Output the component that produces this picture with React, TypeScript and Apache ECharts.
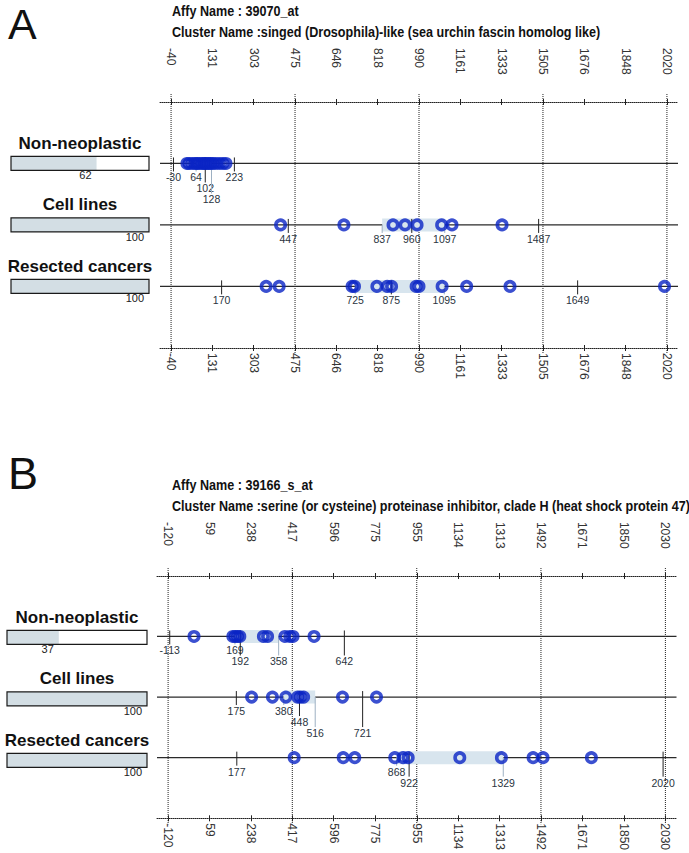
import React, { useEffect, useRef } from "react";
import * as echarts from "echarts";

// ---------------- data ----------------
const ROW_NAMES = ["Non-neoplastic", "Cell lines", "Resected cancers"];

const A_LETTER = "A";
const A_AFFY = "Affy Name : 39070_at";
const A_CLUSTER = "Cluster Name :singed (Drosophila)-like (sea urchin fascin homolog like)";
const A_TICKS = [-40, 131, 303, 475, 646, 818, 990, 1161, 1333, 1505, 1676, 1848, 2020];
const A_PERCENT = [62, 100, 100];
const A_NON_NEOPLASTIC = [26, 35, 48, 60, 68, 78, 90, 98, 106, 115, 124, 133, 145, 160, 175, 188];
const A_CELL_LINES = [415, 678, 882, 932, 982, 1084, 1127, 1335];
const A_RESECTED = [355, 409, 712, 722, 815, 858, 876, 978, 990, 1086, 1188, 1368, 2010];
const A_STATS_NON_NEOPLASTIC = [-30, 64, 102, 128, 223];
const A_STATS_CELL_LINES = [447, 837, 960, 1097, 1487];
const A_STATS_RESECTED = [170, 725, 875, 1095, 1649];

const B_LETTER = "B";
const B_AFFY = "Affy Name : 39166_s_at";
const B_CLUSTER = "Cluster Name :serine (or cysteine) proteinase inhibitor, clade H (heat shock protein 47)";
const B_TICKS = [-120, 59, 238, 417, 596, 775, 955, 1134, 1313, 1492, 1671, 1850, 2030];
const B_PERCENT = [37, 100, 100];
const B_NON_NEOPLASTIC = [-8, 160, 170, 180, 190, 292, 310, 385, 406, 420, 511];
const B_CELL_LINES = [241, 331, 389, 440, 452, 466, 634, 781];
const B_RESECTED = [425, 637, 687, 860, 896, 918, 1141, 1321, 1458, 1501, 1710];
const B_STATS_NON_NEOPLASTIC = [-113, 169, 192, 358, 642];
const B_STATS_CELL_LINES = [175, 380, 448, 516, 721];
const B_STATS_RESECTED = [177, 868, 922, 1329, 2020];

// ---------------- layout (not data) ----------------
const A_LABEL_TIERS = [[0, 0, 1, 2, 0], [0, 0, 0, 0, 0], [0, 0, 0, 0, 0]];
const B_LABEL_TIERS = [[0, 0, 1, 1, 1], [0, 0, 1, 2, 2], [0, 0, 1, 1, 1]];

const PANELS = [
  {
    letter: A_LETTER, affy: A_AFFY, cluster: A_CLUSTER, ticks: A_TICKS, percent: A_PERCENT,
    points: [A_NON_NEOPLASTIC, A_CELL_LINES, A_RESECTED],
    stats: [A_STATS_NON_NEOPLASTIC, A_STATS_CELL_LINES, A_STATS_RESECTED],
    tiers: A_LABEL_TIERS,
    L: { top: 94, gridLeft: 160, gridWidth: 518, xMin: -86, xMax: 2066, boxLeft: 11, boxWidth: 138,
         letterY: 24, letterSize: 43, affyY: 11, clusterY: 32 },
  },
  {
    letter: B_LETTER, affy: B_AFFY, cluster: B_CLUSTER, ticks: B_TICKS, percent: B_PERCENT,
    points: [B_NON_NEOPLASTIC, B_CELL_LINES, B_RESECTED],
    stats: [B_STATS_NON_NEOPLASTIC, B_STATS_CELL_LINES, B_STATS_RESECTED],
    tiers: B_LABEL_TIERS,
    L: { top: 568, gridLeft: 157, gridWidth: 519.5, xMin: -168, xMax: 2078, boxLeft: 7, boxWidth: 140,
         letterY: 473, letterSize: 45, affyY: 485, clusterY: 506 },
  },
];

const GRID_H = 260;
const Y_MIN = -0.13;
const Y_MAX = 4.1;
const FONT = "Liberation Sans";
const RING = "#0a24c4";

function buildOption() {
  const grid: any[] = [];
  const xAxis: any[] = [];
  const yAxis: any[] = [];
  const series: any[] = [];
  const graphic: any[] = [];

  PANELS.forEach((p) => {
    const L = p.L;
    const gMain = grid.length;
    grid.push({ left: L.gridLeft, width: L.gridWidth, top: L.top, height: GRID_H });
    const gLeft = grid.length;
    grid.push({ left: L.boxLeft, width: L.boxWidth, top: L.top, height: GRID_H });

    const yMain = yAxis.length;
    yAxis.push({ type: "value", gridIndex: gMain, min: Y_MIN, max: Y_MAX, inverse: true, show: false });
    const yLeft = yAxis.length;
    yAxis.push({ type: "value", gridIndex: gLeft, min: Y_MIN, max: Y_MAX, inverse: true, show: false });

    const common = { type: "value", gridIndex: gMain, min: L.xMin, max: L.xMax, splitLine: { show: false } };
    const tickStyle = { color: "#222", width: 1 };
    const xTop = xAxis.length;
    xAxis.push({
      ...common, position: "top", offset: -8,
      axisLine: { show: true, onZero: false, lineStyle: { color: "#222", width: 1, type: [1, 1] } },
      axisTick: { show: true, customValues: p.ticks, length: 3, lineStyle: tickStyle },
      axisLabel: { show: false },
    });
    xAxis.push({
      ...common, position: "top", offset: -8,
      axisLine: { show: false, onZero: false },
      axisTick: { show: true, inside: true, customValues: p.ticks, length: 3, lineStyle: tickStyle },
      axisLabel: { show: false },
    });
    xAxis.push({
      ...common, position: "bottom", offset: -6,
      axisLine: { show: true, onZero: false, lineStyle: { color: "#222", width: 1, type: [1, 1] } },
      axisTick: { show: true, customValues: p.ticks, length: 3, lineStyle: tickStyle },
      axisLabel: {
        show: true, customValues: p.ticks, rotate: -90, align: "left", verticalAlign: "middle", margin: 5,
        fontSize: 12, fontFamily: FONT, color: "#333", formatter: (v: number) => String(v),
      },
    });
    xAxis.push({
      ...common, position: "bottom", offset: -6,
      axisLine: { show: false, onZero: false },
      axisTick: { show: true, inside: true, customValues: p.ticks, length: 3, lineStyle: tickStyle },
      axisLabel: { show: false },
    });
    const xLeft = xAxis.length;
    xAxis.push({ type: "value", gridIndex: gLeft, min: 0, max: 100, show: false });

    // top tick labels, top-aligned and reading downwards
    series.push({
      type: "custom", xAxisIndex: xTop, yAxisIndex: yMain, silent: true, clip: false, z: 2,
      data: p.ticks.map((v) => [v, 0]),
      renderItem: (params: any, api: any) => {
        const [x, yAxisLine] = api.coord([api.value(0), 0]);
        return {
          type: "text", x, y: yAxisLine - 54, rotation: -Math.PI / 2,
          style: { text: String(api.value(0)), align: "left", verticalAlign: "middle",
            fontSize: 12, fontFamily: FONT, fill: "#333" },
        };
      },
    });

    // major dotted verticals (every third tick)
    const majors = p.ticks.filter((_, i) => i % 3 === 0);
    series.push({
      type: "custom", xAxisIndex: xTop, yAxisIndex: yMain, silent: true, z: 1,
      data: majors.map((v) => [v, 0]),
      renderItem: (params: any, api: any) => {
        const x = api.coord([api.value(0), 0])[0];
        const cs = params.coordSys;
        return {
          type: "line",
          shape: { x1: x, y1: cs.y, x2: x, y2: cs.y + cs.height },
          style: { stroke: "#222", lineWidth: 1, lineDash: [1, 1] },
        };
      },
    });

    // row lines, bands, stat ticks & labels
    series.push({
      type: "custom", xAxisIndex: xTop, yAxisIndex: yMain, silent: true, z: 2,
      data: p.stats.map((s, r) => [r + 1, ...s]),
      renderItem: (params: any, api: any) => {
        const i = params.dataIndex;
        const row = api.value(0);
        const vals = [1, 2, 3, 4, 5].map((k) => api.value(k));
        const y = api.coord([0, row])[1];
        const xs = vals.map((v) => api.coord([v, row])[0]);
        const cs = params.coordSys;
        const tiers = p.tiers[i];
        const children: any[] = [];
        children.push({
          type: "line",
          shape: { x1: cs.x, y1: y, x2: cs.x + cs.width, y2: y },
          style: { stroke: "#2a2a2a", lineWidth: 1.3 },
        });
        children.push({
          type: "rect",
          shape: { x: xs[1], y: y - 6.5, width: xs[3] - xs[1], height: 13 },
          style: { fill: "#d8e5ee" },
        });
        vals.forEach((v, k) => {
          const ly = y + 14 + 11 * tiers[k];
          const top = ly - 5;
          if (k === 0 || k === 4 || k === 2) {
            children.push({
              type: "line",
              shape: { x1: xs[k], y1: y - 6, x2: xs[k], y2: Math.max(y + 6, top - 1) },
              style: { stroke: "#222", lineWidth: 1 },
            });
          } else {
            children.push({
              type: "line",
              shape: { x1: xs[k], y1: y, x2: xs[k], y2: top - 1 },
              style: { stroke: "#9db0c2", lineWidth: 1 },
            });
          }
          children.push({
            type: "text",
            style: {
              text: String(v), x: xs[k], y: ly, fill: "#2a3440", lineHeight: 9,
              fontSize: 10.5, fontFamily: FONT, align: "center", verticalAlign: "middle",
            },
          });
        });
        return { type: "group", children };
      },
    });

    // sample rings
    const ringData: number[][] = [];
    p.points.forEach((arr, r) => arr.forEach((v) => ringData.push([v, r + 1])));
    series.push({
      type: "scatter", xAxisIndex: xTop, yAxisIndex: yMain, silent: true, z: 3,
      symbol: "circle", symbolSize: 9.4,
      itemStyle: { color: "rgba(0,0,0,0)", borderColor: RING, borderWidth: 3.6 },
      data: ringData,
    });

    // percentage boxes with row names
    series.push({
      type: "custom", xAxisIndex: xLeft, yAxisIndex: yLeft, silent: true, z: 2,
      data: p.percent.map((v, r) => [v, r + 1]),
      renderItem: (params: any, api: any) => {
        const i = params.dataIndex;
        const pct = api.value(0);
        const row = api.value(1);
        const [x0, y] = api.coord([0, row]);
        const x1 = api.coord([100, row])[0];
        const xp = api.coord([pct, row])[0];
        return {
          type: "group",
          children: [
            { type: "rect", shape: { x: x0, y: y - 7, width: xp - x0, height: 14 }, style: { fill: "#d3dee4" } },
            { type: "rect", shape: { x: x0, y: y - 7, width: x1 - x0, height: 14 },
              style: { fill: "none", stroke: "#1a1a1a", lineWidth: 1.2 } },
            { type: "text", style: { text: String(pct), x: xp - 5, y: y + 12, fill: "#222",
              fontSize: 11, fontFamily: FONT, align: "right", verticalAlign: "middle" } },
            { type: "text", style: { text: ROW_NAMES[i], x: (x0 + x1) / 2, y: y - 20, fill: "#111",
              fontSize: 17, fontWeight: "bold", fontFamily: FONT, align: "center", verticalAlign: "middle" } },
          ],
        };
      },
    });

    // panel letter and titles
    graphic.push({
      type: "text", x: 8, y: L.letterY,
      style: { text: p.letter, fontSize: L.letterSize, fontFamily: FONT, fill: "#111",
        align: "left", verticalAlign: "middle" },
    });
    graphic.push({
      type: "text", x: 172, y: L.affyY, scaleX: 0.84,
      style: { text: p.affy, fontSize: 15, fontWeight: "bold", fontFamily: FONT, fill: "#111",
        align: "left", verticalAlign: "middle" },
    });
    graphic.push({
      type: "text", x: 172, y: L.clusterY, scaleX: 0.84,
      style: { text: p.cluster, fontSize: 15, fontWeight: "bold", fontFamily: FONT, fill: "#111",
        align: "left", verticalAlign: "middle" },
    });
  });

  return { animation: false, backgroundColor: "#ffffff", grid, xAxis, yAxis, series, graphic };
}

export default function App() {
  const ref = useRef<HTMLDivElement>(null);
  useEffect(() => {
    if (!ref.current) return;
    const chart = echarts.init(ref.current, undefined, { renderer: "svg" });
    chart.setOption(buildOption() as any);
    return () => chart.dispose();
  }, []);
  return (
    <div
      ref={ref}
      style={{ position: "fixed", left: 0, top: 0, width: 689, height: 853, background: "#fff" }}
    />
  );
}
